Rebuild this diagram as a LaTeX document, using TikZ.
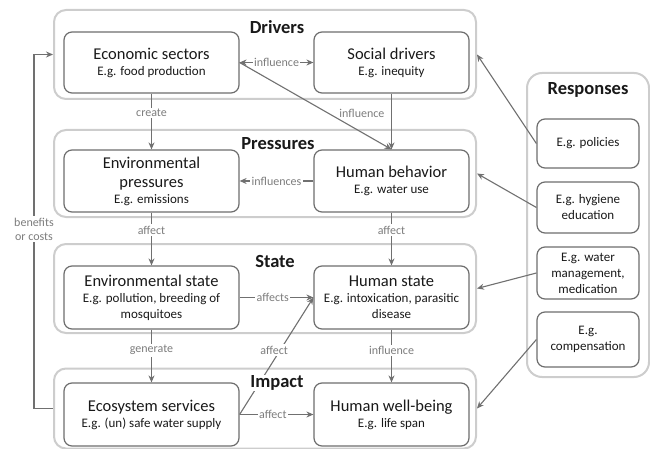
\documentclass[tikz,border=0pt]{standalone}
\usepackage{fontspec}
\setmainfont{Carlito}
\usetikzlibrary{arrows.meta}

\newcommand{\boxhead}[1]{{\fontsize{16.5}{20}\selectfont #1}}

\begin{document}
\begin{tikzpicture}[
        x=1pt, y=-1pt,
        >={Stealth[length=7pt, width=6pt]},
        group_box/.style={draw=groupgrey, line width=2pt, rounded corners=12pt, fill=white},
        item_box/.style={draw=boxgrey, line width=1.2pt, rounded corners=8pt, fill=white, align=center,
                         font=\fontsize{13}{16}\selectfont, text=textblack, inner sep=2pt},
        group_title/.style={font=\fontsize{18.5}{22}\selectfont\bfseries, text=textblack, fill=white, inner sep=0.5pt},
        link/.style={draw=linkgrey, line width=1.1pt},
        link_label/.style={font=\fontsize{12}{14}\selectfont, text=labelgrey, fill=white, inner sep=1.5pt}
    ]

        \definecolor{groupgrey}{RGB}{205, 205, 205}
        \definecolor{boxgrey}{RGB}{110, 110, 110}
        \definecolor{linkgrey}{RGB}{112, 112, 112}
        \definecolor{labelgrey}{RGB}{125, 125, 125}
        \definecolor{textblack}{RGB}{25, 25, 25}

        \useasboundingbox (0,0) rectangle (650,449);

        % group frames
        \node[group_box, minimum width=422pt, minimum height=89pt] (drivers) at (265,54.5) {};
        \node[group_box, minimum width=422pt, minimum height=87pt] (pressures) at (265,173.5) {};
        \node[group_box, minimum width=422pt, minimum height=89pt] (state) at (265,288.5) {};
        \node[group_box, minimum width=422pt, minimum height=80pt] (impact) at (265,408.5) {};
        \node[group_box, rounded corners=15pt, minimum width=122pt, minimum height=304pt] (responses) at (588,225) {};

        % DPSIR boxes
        \node[item_box, minimum width=175pt, minimum height=61pt] (econ) at (151.5,62.5)
            {\boxhead{Economic sectors}\\E.g. food production};
        \node[item_box, minimum width=155pt, minimum height=61pt] (social) at (391.5,62.5)
            {\boxhead{Social drivers}\\E.g. inequity};

        \node[item_box, minimum width=175pt, minimum height=62pt] (envpress) at (151.5,181)
            {\boxhead{Environmental}\\[3pt]\boxhead{pressures}\\E.g. emissions};
        \node[item_box, minimum width=155pt, minimum height=62pt] (behavior) at (391.5,181)
            {\boxhead{Human behavior}\\E.g. water use};

        \node[item_box, minimum width=175pt, minimum height=63pt] (envstate) at (151.5,297.5)
            {\boxhead{Environmental state}\\E.g. pollution, breeding of\\mosquitoes};
        \node[item_box, minimum width=155pt, minimum height=63pt] (humanstate) at (391.5,297.5)
            {\boxhead{Human state}\\E.g. intoxication, parasitic\\disease};

        \node[item_box, minimum width=175pt, minimum height=63pt] (ecoserv) at (151.5,414.5)
            {\boxhead{Ecosystem services}\\E.g. (un) safe water supply};
        \node[item_box, minimum width=155pt, minimum height=63pt] (wellbeing) at (391.5,414.5)
            {\boxhead{Human well-being}\\E.g. life span};

        % response boxes
        \node[item_box, minimum width=102pt, minimum height=49pt] (policies) at (588,143.5) {E.g. policies};
        \node[item_box, minimum width=102pt, minimum height=51pt] (hygiene) at (588,207.5) {E.g. hygiene\\education};
        \node[item_box, minimum width=102pt, minimum height=52pt] (water) at (588,273) {E.g. water\\management,\\medication};
        \node[item_box, minimum width=102pt, minimum height=55pt] (comp) at (588,339.5) {E.g.\\compensation};

        % links
        \draw[link, <->] (econ) -- node[link_label] {influence} (social);
        \draw[link, ->] (econ.east) -- (behavior.north);
        \draw[link, ->] (social) -- node[link_label, pos=0.35, left=5pt, fill=none] {influence} (behavior);
        \draw[link, ->] (econ) -- node[link_label, pos=0.35] {create} (envpress);
        \draw[link, ->] (behavior) -- node[link_label] {influences} (envpress);
        \draw[link, ->] (envpress) -- node[link_label, pos=0.33] {affect} (envstate);
        \draw[link, ->] (behavior) -- node[link_label, pos=0.33] {affect} (humanstate);
        \draw[link, ->] (envstate) -- node[link_label, pos=0.45] {affects} (humanstate);
        \draw[link, ->] (envstate) -- node[link_label, pos=0.39] {generate} (ecoserv);
        \draw[link, ->] (humanstate) -- node[link_label, pos=0.39] {influence} (wellbeing);
        \draw[link, ->] (ecoserv.east) -- node[link_label, pos=0.55, xshift=-6pt] {affect} (humanstate.west);
        \draw[link, ->] (ecoserv) -- node[link_label, pos=0.45] {affect} (wellbeing);

        % feedback loop
        \coordinate (loop_low) at (34,408.5);
        \coordinate (loop_high) at (34,54.5);
        \draw[link, ->] (impact.west) -- (loop_low)
            -- node[link_label, align=center, pos=0.507] {benefits\\or costs} (loop_high)
            -- (drivers.west);

        % responses acting on the chain
        \draw[link, ->] (policies.west) -- (drivers.east);
        \draw[link, ->] (hygiene.west) -- (pressures.east);
        \draw[link, ->] (water.west) -- (state.east);
        \draw[link, ->] (comp.west) -- (impact.east);

        % titles
        \node[group_title] (drivers_title) at (277,27) {Drivers};
        \node[group_title] (pressures_title) at (278,144) {Pressures};
        \node[group_title] (state_title) at (275,262) {State};
        \node[group_title] (impact_title) at (277,383) {Impact};
        \node[group_title] (responses_title) at (588,90) {Responses};
    \end{tikzpicture}
\end{document}
